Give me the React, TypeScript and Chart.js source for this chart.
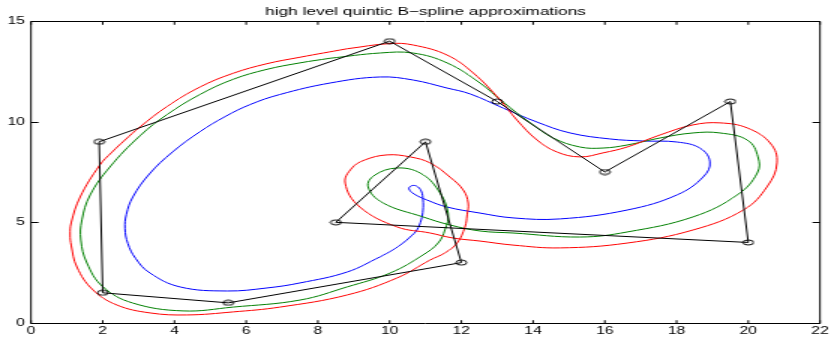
import React, { useEffect, useRef } from 'react';
import { Chart, registerables } from 'chart.js';

Chart.register(...registerables);

const TITLE = 'high level quintic B−spline approximations';

const xTicks = [0, 2, 4, 6, 8, 10, 12, 14, 16, 18, 20, 22];
const yTicks = [0, 5, 10, 15];

// control polygon
const polyX = [1.9, 10, 13, 16, 19.5, 20, 8.5, 11, 12, 5.5, 2, 1.9];
const polyY = [9, 14, 11, 7.5, 11, 4, 5, 9, 3, 1, 1.5, 9];

// red approximation
const redX = [8.81, 10.01, 10.65, 11.6, 12.33, 13.08, 13.55, 14.11, 14.67, 15.31, 15.95, 16.62, 17.54, 18.46, 19.21, 19.97, 20.61, 20.8, 20.52, 19.86, 18.46, 16.62, 14.75, 13.44, 12.52, 11.77, 11.13, 10.21, 9.17, 8.76, 8.95, 9.31, 9.93, 10.57, 11.13, 11.68, 12.05, 12.19, 12.16, 12.1, 11.88, 11.54, 11.13, 10.21, 8.81, 6.94, 5.63, 4.35, 3.32, 2.4, 1.73, 1.28, 1.12, 1.09, 1.12, 1.37, 1.92, 2.26, 2.62, 3.04, 3.79, 4.71, 5.63, 6.58, 7.5, 8.81];
const redY = [13.62, 13.88, 13.81, 13.31, 12.42, 11.08, 10.08, 9.09, 8.49, 8.25, 8.45, 8.74, 9.34, 9.84, 9.94, 9.69, 8.94, 7.95, 6.76, 5.61, 4.62, 3.97, 3.73, 3.87, 4.07, 4.22, 4.47, 4.77, 5.76, 6.95, 7.7, 8.1, 8.35, 8.25, 7.95, 7.25, 6.61, 5.96, 5.37, 4.77, 3.97, 3.48, 3.13, 2.24, 1.39, 0.79, 0.55, 0.4, 0.5, 0.89, 1.64, 2.78, 3.87, 4.37, 4.97, 6.26, 7.85, 8.49, 9.09, 9.74, 10.75, 11.72, 12.4, 12.88, 13.2, 13.62];

// green approximation
const greenX = [8.34, 9.73, 10.65, 11.6, 12.52, 13.16, 13.92, 14.56, 15.31, 15.95, 16.62, 17.54, 18.46, 19.21, 19.97, 20.27, 20.25, 19.69, 18.46, 16.62, 15.31, 13.44, 12.52, 11.68, 10.93, 9.82, 9.4, 9.59, 10.21, 10.85, 11.35, 11.63, 11.54, 11.35, 10.93, 10.01, 8.81, 7.5, 5.63, 4.24, 2.84, 2.01, 1.56, 1.39, 1.42, 1.65, 2.2, 3.04, 3.79, 4.71, 5.63, 6.58, 7.5, 8.34];
const greenY = [13.15, 13.41, 13.41, 12.92, 11.92, 10.98, 9.94, 9.19, 8.74, 8.69, 8.84, 9.19, 9.44, 9.44, 9.09, 8.25, 7.45, 6.36, 5.27, 4.52, 4.27, 4.47, 4.57, 4.87, 5.27, 5.96, 6.76, 7.35, 7.7, 7.45, 6.61, 5.46, 4.62, 3.97, 3.38, 2.48, 1.79, 1.14, 0.79, 0.6, 0.99, 1.79, 2.98, 4.12, 5.12, 6.36, 7.75, 9.3, 10.35, 11.35, 12.1, 12.6, 12.92, 13.15];

// blue approximation
const blueX = [9.73, 8.81, 7.5, 6.58, 5.47, 4.16, 3.32, 2.92, 2.7, 2.62, 2.66, 2.84, 3.3, 3.95, 4.71, 5.41, 6.11, 6.94, 8.34, 9.73, 10.65, 11.6, 12.24, 13.16, 14.11, 15.03, 16.15, 17.07, 18.01, 18.65, 18.93, 18.74, 18.01, 16.62, 14.75, 13.44, 12.52, 11.6, 11.04, 10.68, 10.54, 10.6, 10.74, 10.88, 10.93, 10.93, 10.88, 10.76, 10.57, 10.37, 10.09, 9.73];
const blueY = [3.28, 2.53, 1.99, 1.74, 1.59, 1.79, 2.48, 3.2, 3.95, 4.7, 5.4, 6.26, 7.4, 8.5, 9.5, 10.25, 10.85, 11.35, 11.92, 12.22, 12.07, 11.67, 11.38, 10.68, 9.98, 9.44, 9.14, 9.04, 8.99, 8.69, 8.0, 7.25, 6.36, 5.61, 5.17, 5.22, 5.46, 5.76, 6.11, 6.41, 6.66, 6.81, 6.81, 6.56, 6.11, 5.61, 5.12, 4.62, 4.27, 3.97, 3.63, 3.28];

const pts = (xs: number[], ys: number[]) => xs.map((x, i) => ({ x, y: ys[i] }));

const FONT = "'Liberation Sans', Arial, Helvetica, sans-serif";

export default function App() {
  const ref = useRef<HTMLCanvasElement>(null);

  useEffect(() => {
    const canvas = ref.current;
    if (!canvas) return;

    const marker = document.createElement('canvas');
    marker.width = 9;
    marker.height = 7;
    const m = marker.getContext('2d')!;
    m.strokeStyle = '#000';
    m.lineWidth = 1;
    m.beginPath();
    m.ellipse(4.5, 3.5, 3.5, 2.5, 0, 0, Math.PI * 2);
    m.stroke();

    const frame = {
      id: 'frame',
      afterDraw(chart: any) {
        const ctx = chart.ctx;
        const { left, right, top, bottom } = chart.chartArea;
        const xs = chart.scales.x;
        const ys = chart.scales.y;
        const t = Math.round(top) + 0.5;
        const b = Math.round(bottom) + 0.5;
        ctx.save();
        ctx.strokeStyle = '#000';
        ctx.lineWidth = 1;
        ctx.beginPath();
        ctx.moveTo(left, t);
        ctx.lineTo(right, t);
        ctx.lineTo(right, b);
        ctx.lineTo(left, b);
        ctx.closePath();
        ctx.stroke();
        ctx.beginPath();
        xTicks.forEach((v) => {
          const px = xs.getPixelForValue(v);
          ctx.moveTo(px, b);
          ctx.lineTo(px, b - 3.3);
          ctx.moveTo(px, t);
          ctx.lineTo(px, t + 3.3);
        });
        yTicks.forEach((v) => {
          const py = Math.round(ys.getPixelForValue(v)) + 0.5;
          ctx.moveTo(left, py);
          ctx.lineTo(left + 5, py);
          ctx.moveTo(right, py);
          ctx.lineTo(right - 5, py);
        });
        ctx.stroke();
        ctx.fillStyle = '#000';
        ctx.font = `11.5px ${FONT}`;
        ctx.textAlign = 'center';
        ctx.textBaseline = 'alphabetic';
        ctx.fillText(TITLE, (left + right) / 2, 14.5);
        ctx.restore();
      },
    };

    const lastPoly = polyX.length - 1;

    const chart = new Chart(canvas, {
      type: 'scatter',
      data: {
        datasets: [
          {
            label: 'control polygon',
            data: pts(polyX, polyY),
            showLine: true,
            borderColor: '#000000',
            borderWidth: 1,
            pointStyle: marker as any,
            pointRadius: (c: any) => (c.dataIndex === lastPoly ? 0 : 3),
            tension: 0,
          },
          {
            label: 'red',
            data: pts(redX, redY),
            showLine: true,
            borderColor: '#ff0000',
            borderWidth: 1,
            pointRadius: 0,
            tension: 0.4,
          },
          {
            label: 'green',
            data: pts(greenX, greenY),
            showLine: true,
            borderColor: '#008000',
            borderWidth: 1,
            pointRadius: 0,
            tension: 0.4,
          },
          {
            label: 'blue',
            data: pts(blueX, blueY),
            showLine: true,
            borderColor: '#0000ff',
            borderWidth: 1,
            pointRadius: 0,
            tension: 0.4,
          },
        ],
      },
      options: {
        responsive: false,
        devicePixelRatio: 1,
        animation: false,
        events: [],
        layout: { padding: { left: 0, right: 9.33, top: 21, bottom: 0 } },
        plugins: {
          legend: { display: false },
          tooltip: { enabled: false },
          title: { display: false },
        },
        scales: {
          x: {
            type: 'linear',
            min: 0,
            max: 22,
            afterFit: (s: any) => {
              s.height = 19;
            },
            afterBuildTicks: (s: any) => {
              s.ticks = xTicks.map((v) => ({ value: v }));
            },
            grid: { display: false, drawTicks: false },
            border: { display: false },
            ticks: {
              autoSkip: false,
              maxRotation: 0,
              padding: 2,
              color: '#000',
              font: { family: FONT, size: 10.5 },
            },
          },
          y: {
            type: 'linear',
            min: 0,
            max: 15,
            afterFit: (s: any) => {
              s.width = 20.67;
            },
            afterBuildTicks: (s: any) => {
              s.ticks = yTicks.map((v) => ({ value: v }));
            },
            grid: { display: false, drawTicks: false },
            border: { display: false },
            ticks: {
              autoSkip: false,
              padding: 4,
              color: '#000',
              font: { family: FONT, size: 10.5 },
            },
          },
        },
      },
      plugins: [frame],
    } as any);

    return () => {
      chart.destroy();
    };
  }, []);

  return (
    <div style={{ position: 'fixed', left: 0, top: 0, width: 834, height: 342, background: '#fff' }}>
      <canvas
        ref={ref}
        width={556}
        height={342}
        style={{ display: 'block', width: '834px', height: '342px' }}
      />
    </div>
  );
}
